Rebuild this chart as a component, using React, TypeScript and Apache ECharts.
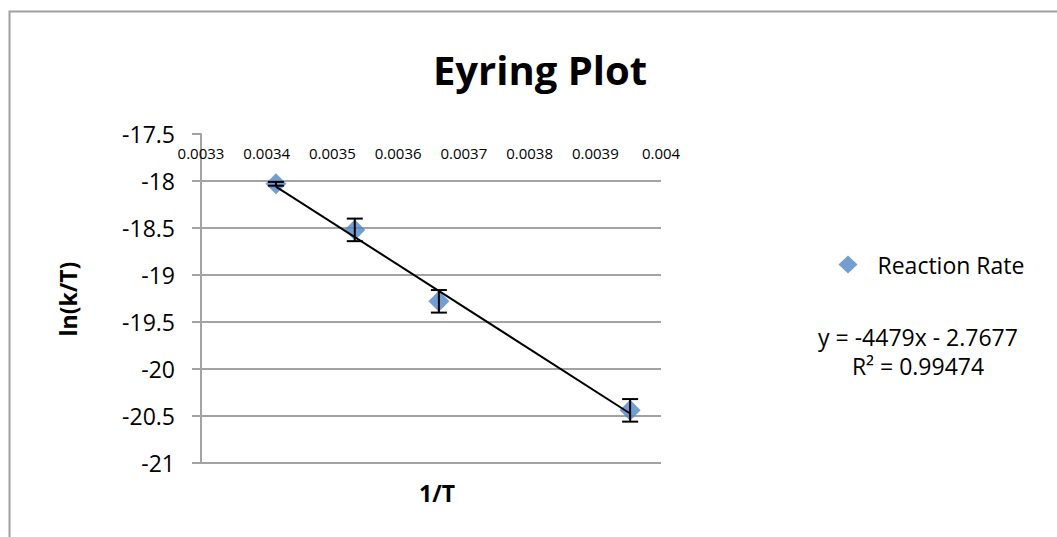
import React, { useEffect, useRef } from "react";
import * as echarts from "echarts";

const xValues = [0.003414, 0.003534, 0.003662, 0.003953];
const yValues = [-18.03, -18.52, -19.28, -20.44];
const yErrors = [0.02, 0.12, 0.12, 0.12];
const slope = -4479;
const intercept = -2.7677;
const seriesName = "Reaction Rate";
const titleText = "Eyring Plot";
const xName = "1/T";
const yName = "ln(k/T)";
const eqLine1 = "y = -4479x - 2.7677";
const eqLine2 = "R² = 0.99474";

const FONT = "'Open Sans', 'Noto Sans', sans-serif";

export default function App() {
  const ref = useRef<HTMLDivElement>(null);
  useEffect(() => {
    if (!ref.current) return;
    const chart = echarts.init(ref.current, null, { renderer: "svg" });
    const points = xValues.map((x, i) => [x, yValues[i]]);
    const errData = xValues.map((x, i) => [x, yValues[i] - yErrors[i], yValues[i] + yErrors[i]]);
    const xFirst = xValues[0];
    const xLast = xValues[xValues.length - 1];
    const trend = [
      [xFirst, slope * xFirst + intercept],
      [xLast, slope * xLast + intercept],
    ];
    const gridColor = "#a3a3a3";
    const txt = (text: string, x: number, y: number, size: number, bold: boolean, rotation = 0, lineHeight?: number) => ({
      type: "text",
      x,
      y,
      rotation,
      style: {
        text,
        fontSize: size,
        fontWeight: bold ? "bold" : "normal",
        fill: "#000",
        fontFamily: FONT,
        align: "center",
        verticalAlign: "middle",
        lineHeight: lineHeight ?? size * 1.2,
      },
    });
    chart.setOption({
      animation: false,
      textStyle: { fontFamily: FONT },
      legend: {
        data: [{ name: seriesName, icon: "diamond" }],
        left: 833.5,
        top: 248,
        itemWidth: 19,
        itemHeight: 18,
        textStyle: { fontSize: 23, color: "#000", fontFamily: FONT, padding: [0, 0, 0, 15] },
      },
      grid: { left: 201, right: 396, top: 134, bottom: 74 },
      xAxis: {
        type: "value",
        position: "top",
        min: 0.0033,
        max: 0.004,
        interval: 0.0001,
        axisLine: { show: false },
        axisTick: { show: false },
        splitLine: { show: false },
        axisLabel: {
          inside: true,
          margin: 11,
          fontSize: 15,
          color: "#000",
          fontFamily: FONT,
          formatter: (v: number) => String(Number(v.toFixed(4))),
        },
      },
      yAxis: {
        type: "value",
        min: -21,
        max: -17.5,
        interval: 0.5,
        axisLine: { show: true, lineStyle: { color: gridColor, width: 2 } },
        axisTick: { show: true, inside: false, length: 9, lineStyle: { color: gridColor, width: 2 } },
        splitLine: {
          show: true,
          lineStyle: {
            color: [gridColor, gridColor, gridColor, gridColor, gridColor, gridColor, gridColor, "rgba(0,0,0,0)"],
            width: 2,
          },
        },
        axisLabel: {
          margin: 26,
          fontSize: 23,
          color: "#000",
          fontFamily: FONT,
          formatter: (v: number) => String(v),
        },
      },
      graphic: [
        {
          type: "rect",
          shape: { x: 9.5, y: 11.5, width: 1200, height: 700 },
          style: { fill: "none", stroke: "#a0a0a0", lineWidth: 2 },
          silent: true,
        },
        txt(titleText, 540, 69, 40, true),
        txt(yName, 68, 299, 23, true, Math.PI / 2),
        txt(xName, 437, 493, 23, true),
        txt(eqLine1 + "\n" + eqLine2, 918, 351.5, 23, false, 0, 29),
      ],
      series: [
        {
          name: seriesName,
          type: "scatter",
          data: points,
          symbol: "diamond",
          symbolSize: [21, 21],
          itemStyle: { color: "#4f86c6" },
          z: 3,
        },
        {
          name: "errorbars",
          type: "custom",
          data: errData,
          z: 4,
          renderItem: (params: any, api: any) => {
            const x = api.value(0);
            const lo = api.coord([x, api.value(1)]);
            const hi = api.coord([x, api.value(2)]);
            const hw = 8;
            const style = { stroke: "#000", lineWidth: 2 };
            return {
              type: "group",
              children: [
                { type: "line", shape: { x1: lo[0], y1: lo[1], x2: hi[0], y2: hi[1] }, style },
                { type: "line", shape: { x1: lo[0] - hw, y1: lo[1], x2: lo[0] + hw, y2: lo[1] }, style },
                { type: "line", shape: { x1: hi[0] - hw, y1: hi[1], x2: hi[0] + hw, y2: hi[1] }, style },
              ],
            };
          },
        },
        {
          name: "trend",
          type: "line",
          data: trend,
          symbol: "none",
          lineStyle: { color: "#000", width: 2 },
          z: 5,
        },
      ],
    });
    return () => chart.dispose();
  }, []);
  return (
    <div
      ref={ref}
      style={{ position: "absolute", left: 0, top: 0, width: 1057, height: 537, background: "#fff" }}
    />
  );
}
